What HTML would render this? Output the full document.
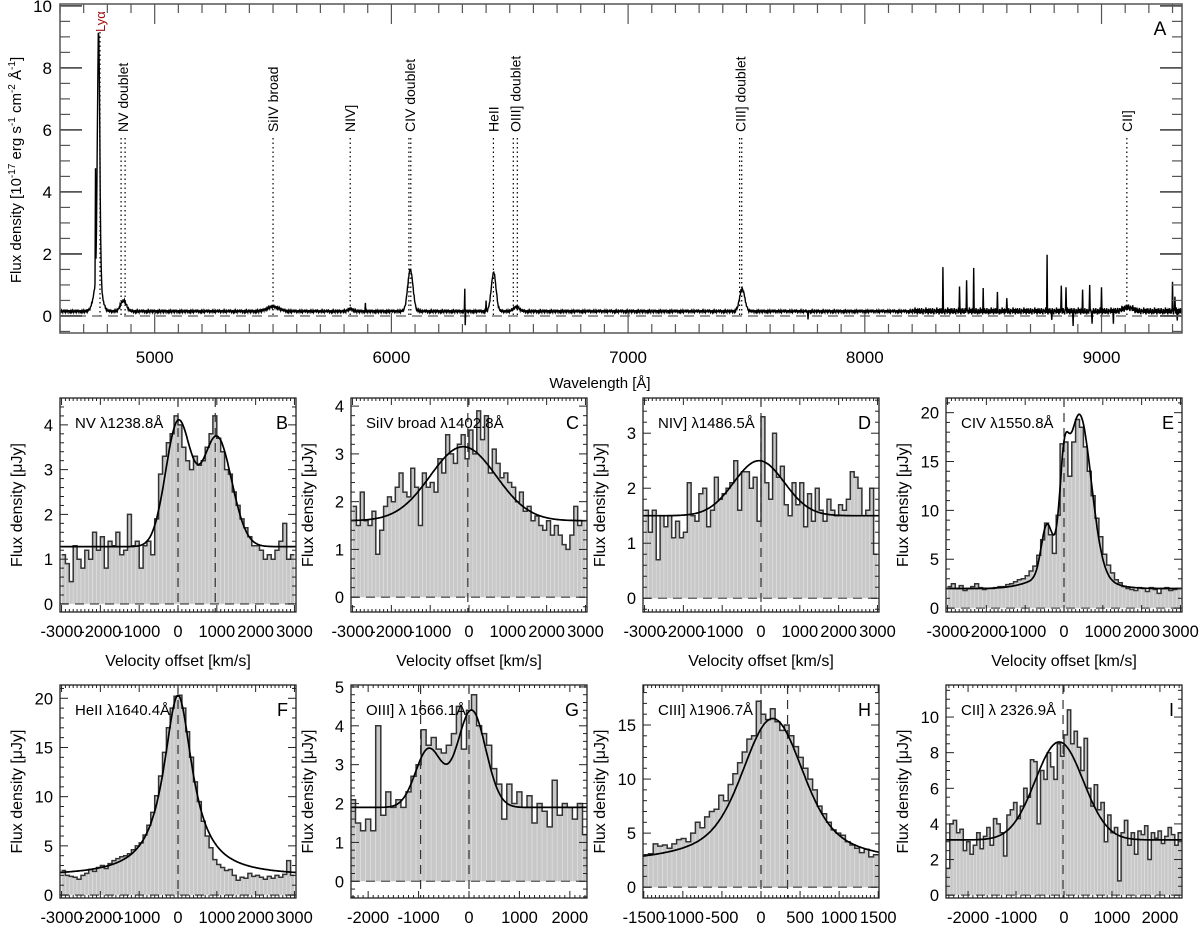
<!DOCTYPE html>
<html><head><meta charset="utf-8"><title>Spectrum figure</title>
<style>
html,body{margin:0;padding:0;background:#fff;}
svg{display:block;font-family:"Liberation Sans",Arial,sans-serif;}
</style></head>
<body>
<svg id="fig" width="1200" height="931" viewBox="0 0 1200 931"></svg>
<script>
// ---------- Top panel data ----------
const lineCenters = [4763, 4760, 4868, 5500, 5828, 6080, 6432, 6528, 7482, 9112];
const lineAmps    = [8.0, 1.1, 0.35, 0.15, 0.08, 1.35, 1.25, 0.15, 0.72, 0.12];
const lineWidths  = [5, 15, 12, 25, 10, 11, 10, 12, 11, 20];
const spikeWaves  = [4750, 6310, 6312, 5890, 6400, 7760, 8330, 8345, 8400, 8430, 8460, 8500, 8560, 8600, 8770, 8790, 8830, 8850, 8880, 8920, 8950, 8960, 9000, 9050, 9300, 9310, 9320];
const spikeVals   = [3.5, 0.75, -0.45, 0.3, 0.3, -0.25, 1.4, 0.9, 0.8, 1.1, 1.3, 0.7, 0.6, 0.5, 1.75, -0.3, 0.9, 0.8, -0.4, 0.6, 0.9, -0.45, 0.7, -0.3, 1.0, 0.5, -0.3];
const noisePattern = [0.02,-0.03,0.01,0.04,-0.02,0.0,-0.04,0.03,0.01,-0.01,0.02,-0.03,0.05,-0.02,0.0,0.03,-0.01,-0.04,0.02,0.01,-0.02,0.04,-0.03];
const baseFlux = 0.15;
const markerNames = ["Ly\u03b1", "NV doublet", "SiIV broad", "NIV]", "CIV doublet", "HeII", "OIII] doublet", "CIII] doublet", "CII]"];
const markerWaves = [[4769], [4858, 4875], [5500], [5826], [6074, 6082], [6431], [6515, 6532], [7471, 7480], [9107]];
const topXTicks = [5000, 6000, 7000, 8000, 9000];
const topYTicks = [0, 2, 4, 6, 8, 10];

// ---------- Sub-panel data ----------
const valsB = [1.1,0.9,0.5,1.3,1.0,0.8,1.2,1.0,1.6,1.2, 1.5,0.8,1.4,1.3,1.6,1.1,1.2,2.0,1.3,1.4, 0.8,1.3,1.4,1.1,1.9,2.9,3.3,3.6,3.8,4.2, 4.0,3.5,3.2,3.0,3.3,3.1,3.2,3.5,3.8,4.2, 3.7,3.4,3.0,2.9,2.5,2.2,1.9,1.7,1.5,1.3, 1.3,1.2,1.0,1.1,1.0,1.2,1.4,1.8,1.0,1.1];
const valsC = [1.9,1.5,2.2,1.6,1.5,1.8,0.9,1.4,1.9,2.1, 2.0,2.3,2.6,2.2,2.1,2.7,2.3,1.5,2.6,2.3, 2.4,2.2,2.9,2.6,3.4,3.0,2.8,3.2,3.4,2.9, 3.5,3.0,3.9,3.3,3.8,2.6,3.1,2.8,2.5,2.6, 2.4,2.3,2.0,2.2,1.8,1.9,1.6,1.7,1.5,1.4, 1.6,1.3,1.5,1.3,1.1,1.0,1.3,1.9,1.5,1.6];
const valsD = [1.6,1.2,1.6,0.7,1.5,1.3,1.5,1.1,1.4,1.1, 1.2,2.1,1.5,1.4,1.9,2.0,1.3,1.6,2.2,1.8, 1.9,2.0,2.1,2.5,1.6,2.3,2.3,2.0,2.2,1.4, 3.3,2.1,1.8,3.0,2.2,2.4,1.7,1.5,2.1,1.7, 2.1,1.3,1.9,1.4,2.0,1.6,1.4,1.8,1.6,1.5, 1.7,1.6,1.8,2.3,2.2,2.0,1.5,1.6,2.0,0.8];
const valsE = [2.2,2.5,2.0,2.3,1.8,2.0,2.2,2.5,2.1,1.9,2.0,2.0,2.1,2.2,2.2,2.4,2.5,2.7,2.9,3.0, 3.3,3.8,4.3,5.4,7.0,8.7,7.5,5.6,9.5,16.8,17.0,13.5,17.0,19.3,18.5,16.5,14.0,11.5,9.2,7.3,5.5,4.4,3.6,2.9,2.6,2.2, 2.0,1.9,1.8,2.1,2.0,1.7,2.1,1.9,1.5,2.0,2.1,1.8,1.9,2.0];
const valsF = [2.5,2.0,1.9,1.8,1.6,2.0,2.2,2.6,2.4,2.8,3.0,2.7,3.2,3.5,3.7,3.9,4.0,4.2,4.6,5.0, 5.3,6.1,7.1,8.4,10.1,12.1,14.5,17.0,19.0,20.2,20.3,19.0,16.6,14.0,11.5,9.5,7.5,6.0,4.8,3.6, 3.1,2.8,2.5,2.6,2.0,1.5,1.8,1.7,2.2,1.9,2.0,1.8,1.6,1.9,1.7,2.0,1.8,2.1,3.5,2.0];
const valsG = [2.1,1.5,1.3,1.6,1.3,4.0,1.7,2.3,1.9,2.1, 1.9,2.3,2.7,3.0,3.9,3.5,3.7,3.4,3.3,3.5, 3.8,4.5,3.4,4.4,4.8,4.0,3.8,3.5,2.9,2.5, 1.6,2.5,2.0,2.3,1.9,2.2,1.5,2.0,1.8,1.4, 2.6,1.7,2.0,1.9,1.6,2.0,1.2];
const valsH = [3.0,3.1,4.0,3.8,3.9,3.6,4.0,4.4,4.5,4.2, 5.0,6.0,5.5,6.5,7.0,7.2,8.5,8.0,9.5,10.5, 11.5,12.5,13.7,14.0,17.2,16.0,15.5,16.5,15.3,14.5, 15.0,14.0,13.0,12.0,11.0,10.0,9.0,7.5,6.8,6.0, 5.3,5.0,4.8,4.2,3.9,3.6,3.2,3.5,2.8,3.0];
const valsI = [1.5,4.0,4.2,3.5,3.7,2.5,3.0,2.3,2.8,3.5, 2.6,3.3,3.8,2.8,4.3,4.0,3.5,2.2,4.5,4.8, 5.2,4.3,5.0,6.0,5.5,7.6,7.5,4.0,7.0,6.5, 8.0,7.2,6.5,8.5,7.8,9.0,10.4,8.5,9.2,8.3, 7.0,8.8,6.0,5.0,6.2,4.8,5.2,3.0,4.5,3.5, 3.8,0.8,3.5,4.2,2.8,3.5,2.3,3.6,3.4,3.9, 2.0,3.5,3.2,3.6,2.9,3.3,3.8,3.4,2.8,3.5];
const binStartB = -2950, binWB = 100;
const binStartC = -2950, binWC = 100;
const binStartD = -2950, binWD = 100;
const binStartE = -2950, binWE = 100;
const binStartF = -2950, binWF = 100;
const binStartG = -2300, binWG = 100;
const binStartH = -1470, binWH = 60;
const binStartI = -2415, binWI = 70;
// fit parameters
const fitContB = 1.28, fitCenB = [0, 1000], fitAmpB = [2.75, 2.45], fitSigB = [320, 380];
const fitContC = 1.6,  fitCenC = [-150], fitAmpC = [1.55], fitSigC = [850];
const fitContD = 1.5,  fitCenD = [-50], fitAmpD = [1.0], fitSigD = [650];
const fitContE = 2.0,  fitCenE = [-450, 0, 400, 100], fitAmpE = [4.8, 6.5, 16.0, 2.0], fitSigE = [140, 110, 300, 700];
const fitContF = 1.9,  fitCenF = [0], fitAmpF = [18.4], fitGamF = [450];
const fitContG = 1.9,  fitCenG = [-800, 50], fitAmpG = [1.5, 2.5], fitSigG = [260, 280];
const fitContH = 2.0,  fitCenH = [150], fitAmpHg = [7.0], fitSigH = [350], fitAmpHl = [6.6], fitGamH = [650];
const fitContI = 3.1,  fitCenI = [-100], fitAmpI = [5.5], fitSigI = [500];

const NS = 'http://www.w3.org/2000/svg';
const svg = document.getElementById('fig');
function mk(parent, tag, attrs, name) {
  const el = document.createElementNS(NS, tag);
  for (const k in attrs) el.setAttribute(k, attrs[k]);
  
  
  parent.appendChild(el);
  return el;
}
function txt(parent, x, y, s, size, anchor, name, extra) {
  const t = mk(parent, 'text', Object.assign({x: x, y: y, 'font-size': size, 'text-anchor': anchor, fill: '#000'}, extra || {}), name);
  t.textContent = s;
  return t;
}
const defs = mk(svg, 'defs', {}, 'defs');

// ================= TOP PANEL =================
(function () {
  const X0 = 60, X1 = 1182, Y0 = 4, Y1 = 333;
  const wmin = 4600, wmax = 9340, fmin = -0.55, fmax = 10.06;
  const xW = w => X0 + (w - wmin) / (wmax - wmin) * (X1 - X0);
  const yF = f => Y1 - (f - fmin) / (fmax - fmin) * (Y1 - Y0);
  const g = mk(svg, 'g', {}, 'panel-a');
  const cp = mk(defs, 'clipPath', {id: 'clipA'}, 'clip-a');
  mk(cp, 'rect', {x: X0, y: Y0, width: X1 - X0, height: Y1 - Y0}, 'clip-rect');
  mk(g, 'line', {x1: X0, x2: X1, y1: yF(0), y2: yF(0), stroke: '#777', 'stroke-width': 1.5, 'stroke-dasharray': '10,6'}, 'zero-line');
  markerNames.forEach((nm, i) => {
    const ws = markerWaves[i];
    const isLya = i === 0;
    ws.forEach(w => {
      mk(g, 'line', {x1: xW(w), x2: xW(w), y1: isLya ? 32 : 138, y2: yF(0), stroke: '#000', 'stroke-width': 1.2, 'stroke-dasharray': '1.5,3'}, 'marker-line');
    });
    const xc = ws.reduce((a, b) => a + b, 0) / ws.length;
    const by = isLya ? 32 : 132;
    txt(g, 0, 0, nm, isLya ? 13 : 14, 'start', 'marker-label', {transform: 'translate(' + (xW(xc) + 5) + ',' + by + ') rotate(-90)', fill: isLya ? '#a01010' : '#000'});
  });
  let d = '';
  let k = 0;
  for (let w = wmin; w <= wmax; w += 2, k++) {
    let f = baseFlux;
    for (let j = 0; j < lineCenters.length; j++) {
      const z = (w - lineCenters[j]) / lineWidths[j];
      f += lineAmps[j] * Math.exp(-0.5 * z * z);
    }
    let nz = noisePattern[k % noisePattern.length];
    if (w > 8200) nz *= 2.5;
    f += nz;
    for (let j = 0; j < spikeWaves.length; j++) {
      if (Math.abs(w - spikeWaves[j]) < 1) f += spikeVals[j];
    }
    d += (d ? 'L' : 'M') + xW(w).toFixed(1) + ',' + yF(f).toFixed(1);
  }
  mk(g, 'path', {d: d, fill: 'none', stroke: '#000', 'stroke-width': 1.4, 'clip-path': 'url(#clipA)'}, 'spectrum-line');
  mk(g, 'rect', {x: X0, y: Y0, width: X1 - X0, height: Y1 - Y0, fill: 'none', stroke: '#555', 'stroke-width': 1.5}, 'axes-frame');
  for (let w = 4600; w <= wmax; w += 100) {
    const major = w % 1000 === 0;
    const L = major ? 20 : 9;
    mk(g, 'line', {x1: xW(w), x2: xW(w), y1: Y1, y2: Y1 - L, stroke: '#555', 'stroke-width': 1.2}, 'x-tick');
    mk(g, 'line', {x1: xW(w), x2: xW(w), y1: Y0, y2: Y0 + L, stroke: '#555', 'stroke-width': 1.2}, 'x-tick-top');
  }
  topXTicks.forEach(w => txt(g, xW(w), 363, String(w), 17, 'middle', 'x-tick-label'));
  for (let f = -0.5; f <= 10; f += 0.5) {
    const major = Math.abs(f / 2 - Math.round(f / 2)) < 1e-6;
    const L = major ? 22 : 10;
    mk(g, 'line', {x1: X0, x2: X0 + L, y1: yF(f), y2: yF(f), stroke: '#555', 'stroke-width': major ? 1.8 : 1.2}, 'y-tick');
    mk(g, 'line', {x1: X1, x2: X1 - L, y1: yF(f), y2: yF(f), stroke: '#555', 'stroke-width': major ? 1.8 : 1.2}, 'y-tick-right');
  }
  topYTicks.forEach(f => txt(g, 52, yF(f) + 6, String(f), 17, 'end', 'y-tick-label'));
  txt(g, 600, 388, 'Wavelength [\u00c5]', 15, 'middle', 'x-axis-title');
  const yt = mk(g, 'text', {transform: 'translate(21,170) rotate(-90)', 'font-size': 15, 'text-anchor': 'middle'}, 'y-axis-title');
  yt.innerHTML = 'Flux density [10<tspan dy="-6" font-size="10">-17</tspan><tspan dy="6"> erg s</tspan><tspan dy="-6" font-size="10">-1</tspan><tspan dy="6"> cm</tspan><tspan dy="-6" font-size="10">-2</tspan><tspan dy="6"> \u00c5</tspan><tspan dy="-6" font-size="10">-1</tspan><tspan dy="6">]</tspan>';
  txt(g, 1160, 35, 'A', 19, 'middle', 'panel-letter');
})();

// ================= SUB PANELS =================
function gauss(v, cont, cen, amp, sig) {
  let f = cont;
  for (let i = 0; i < cen.length; i++) { const z = (v - cen[i]) / sig[i]; f += amp[i] * Math.exp(-0.5 * z * z); }
  return f;
}
function lorentz(v, cont, cen, amp, gam) {
  let f = cont;
  for (let i = 0; i < cen.length; i++) { const z = (v - cen[i]) / gam[i]; f += amp[i] / (1 + z * z); }
  return f;
}
let clipN = 0;
function panel(p) {
  const {x0, x1, y0, y1, vmin, vmax, fmin, fmax} = p;
  const X = v => x0 + (v - vmin) / (vmax - vmin) * (x1 - x0);
  const Y = f => y1 - (f - fmin) / (fmax - fmin) * (y1 - y0);
  const g = mk(svg, 'g', {}, p.name);
  const id = 'clipP' + (clipN++);
  const cp = mk(defs, 'clipPath', {id: id}, 'clip-panel');
  mk(cp, 'rect', {x: x0, y: y0, width: x1 - x0, height: y1 - y0}, 'clip-rect');
  const inner = mk(g, 'g', {'clip-path': 'url(#' + id + ')'}, 'plot-area');
  const n = p.values.length;
  let step = '';
  for (let i = 0; i < n; i++) {
    const c = p.start + i * p.bw;
    const xa = X(c - p.bw / 2), xb = X(c + p.bw / 2);
    mk(inner, 'rect', {x: xa, y: Y(p.values[i]), width: Math.max(0.5, xb - xa), height: Math.max(0, Y(0) - Y(p.values[i])), fill: '#c8c8c8', stroke: '#e2e2e2', 'stroke-width': 0.6}, 'histogram-bar');
    step += (i === 0 ? 'M' : 'L') + xa.toFixed(1) + ',' + Y(p.values[i]).toFixed(1) + 'L' + xb.toFixed(1) + ',' + Y(p.values[i]).toFixed(1);
  }
  mk(inner, 'path', {d: step, fill: 'none', stroke: '#333', 'stroke-width': 1.5}, 'histogram-outline');
  mk(inner, 'line', {x1: x0, x2: x1, y1: Y(0), y2: Y(0), stroke: '#555', 'stroke-width': 1.3, 'stroke-dasharray': '9,6'}, 'zero-line');
  p.vlines.forEach(v => mk(inner, 'line', {x1: X(v), x2: X(v), y1: y0, y2: y1, stroke: '#333', 'stroke-width': 1.2, 'stroke-dasharray': '9,6'}, 'reference-velocity-line'));
  let fd = '';
  for (let k = 0; k <= 300; k++) {
    const v = vmin + (vmax - vmin) * k / 300;
    fd += (k ? 'L' : 'M') + X(v).toFixed(1) + ',' + Y(p.fit(v)).toFixed(1);
  }
  mk(inner, 'path', {d: fd, fill: 'none', stroke: '#000', 'stroke-width': 1.7}, 'fit-curve');
  mk(g, 'rect', {x: x0, y: y0, width: x1 - x0, height: y1 - y0, fill: 'none', stroke: '#222', 'stroke-width': 1.3}, 'axes-frame');
  for (let v = Math.ceil(vmin / p.xminor) * p.xminor; v <= vmax; v += p.xminor) {
    const major = Math.abs(v / p.xmajor - Math.round(v / p.xmajor)) < 1e-6;
    const L = major ? 7 : 3;
    mk(g, 'line', {x1: X(v), x2: X(v), y1: y1, y2: y1 - L, stroke: '#222', 'stroke-width': 1}, 'x-tick');
    mk(g, 'line', {x1: X(v), x2: X(v), y1: y0, y2: y0 + L, stroke: '#222', 'stroke-width': 1}, 'x-tick-top');
  }
  p.xticks.forEach(v => txt(g, X(v), y1 + 25, String(v), 16.5, 'middle', 'x-tick-label'));
  for (let f = Math.ceil(fmin / p.yminor) * p.yminor; f <= fmax; f += p.yminor) {
    const major = Math.abs(f / p.ymajor - Math.round(f / p.ymajor)) < 1e-6;
    const L = major ? 8 : 4;
    mk(g, 'line', {x1: x0, x2: x0 + L, y1: Y(f), y2: Y(f), stroke: '#222', 'stroke-width': 1}, 'y-tick');
    mk(g, 'line', {x1: x1, x2: x1 - L, y1: Y(f), y2: Y(f), stroke: '#222', 'stroke-width': 1}, 'y-tick-right');
  }
  p.yticks.forEach(f => txt(g, x0 - 7, Y(f) + 6, String(f), 16.5, 'end', 'y-tick-label'));
  txt(g, 0, 0, 'Flux density [\u03bcJy]', 16, 'middle', 'y-axis-title', {transform: 'translate(' + (x0 - 38) + ',' + ((y0 + y1) / 2) + ') rotate(-90)'});
  if (p.xtitle) txt(g, (x0 + x1) / 2, y1 + 54, 'Velocity offset [km/s]', 16, 'middle', 'x-axis-title');
  txt(g, x0 + 15, y0 + 30, p.label, 15, 'start', 'line-label');
  txt(g, x1 - 8, y0 + 31, p.letter, 18, 'end', 'panel-letter');
}
const tk3 = [-3000, -2000, -1000, 0, 1000, 2000, 3000];
const tk2 = [-2000, -1000, 0, 1000, 2000];
panel({name: 'panel-b', x0: 60, x1: 296, y0: 398, y1: 612, vmin: -3040, vmax: 3040, fmin: -0.18, fmax: 4.6, values: valsB, start: binStartB, bw: binWB, fit: v => gauss(v, fitContB, fitCenB, fitAmpB, fitSigB), vlines: [0, 960], xticks: tk3, xmajor: 1000, xminor: 100, yticks: [0,1,2,3,4], ymajor: 1, yminor: 0.2, label: 'NV \u03bb1238.8\u00c5', letter: 'B', xtitle: true});
panel({name: 'panel-c', x0: 351, x1: 587, y0: 398, y1: 612, vmin: -3040, vmax: 3040, fmin: -0.31, fmax: 4.17, values: valsC, start: binStartC, bw: binWC, fit: v => gauss(v, fitContC, fitCenC, fitAmpC, fitSigC), vlines: [-30], xticks: tk3, xmajor: 1000, xminor: 100, yticks: [0,1,2,3,4], ymajor: 1, yminor: 0.2, label: 'SiIV broad \u03bb1402.8\u00c5', letter: 'C', xtitle: true});
panel({name: 'panel-d', x0: 643, x1: 879, y0: 398, y1: 612, vmin: -3040, vmax: 3040, fmin: -0.25, fmax: 3.64, values: valsD, start: binStartD, bw: binWD, fit: v => gauss(v, fitContD, fitCenD, fitAmpD, fitSigD), vlines: [0], xticks: tk3, xmajor: 1000, xminor: 100, yticks: [0,1,2,3], ymajor: 1, yminor: 0.2, label: 'NIV] \u03bb1486.5\u00c5', letter: 'D', xtitle: true});
panel({name: 'panel-e', x0: 946, x1: 1182, y0: 398, y1: 612, vmin: -3040, vmax: 3040, fmin: -0.4, fmax: 21.5, values: valsE, start: binStartE, bw: binWE, fit: v => gauss(v, fitContE, fitCenE, fitAmpE, fitSigE), vlines: [0], xticks: tk3, xmajor: 1000, xminor: 100, yticks: [0,5,10,15,20], ymajor: 5, yminor: 1, label: 'CIV \u03bb1550.8\u00c5', letter: 'E', xtitle: true});
panel({name: 'panel-f', x0: 60, x1: 296, y0: 685, y1: 898, vmin: -3040, vmax: 3040, fmin: -0.3, fmax: 21.35, values: valsF, start: binStartF, bw: binWF, fit: v => lorentz(v, fitContF, fitCenF, fitAmpF, fitGamF), vlines: [0], xticks: tk3, xmajor: 1000, xminor: 100, yticks: [0,5,10,15,20], ymajor: 5, yminor: 1, label: 'HeII \u03bb1640.4\u00c5', letter: 'F', xtitle: false});
panel({name: 'panel-g', x0: 351, x1: 587, y0: 685, y1: 898, vmin: -2340, vmax: 2340, fmin: -0.43, fmax: 5.05, values: valsG, start: binStartG, bw: binWG, fit: v => gauss(v, fitContG, fitCenG, fitAmpG, fitSigG), vlines: [-960, 0], xticks: tk2, xmajor: 1000, xminor: 100, yticks: [0,1,2,3,4,5], ymajor: 1, yminor: 0.2, label: 'OIII] \u03bb 1666.1\u00c5', letter: 'G', xtitle: false});
panel({name: 'panel-h', x0: 643, x1: 879, y0: 685, y1: 898, vmin: -1510, vmax: 1510, fmin: -1.0, fmax: 18.7, values: valsH, start: binStartH, bw: binWH, fit: v => gauss(v, 0, fitCenH, fitAmpHg, fitSigH) + lorentz(v, fitContH, fitCenH, fitAmpHl, fitGamH), vlines: [0, 340], xticks: [-1500,-1000,-500,0,500,1000,1500], xmajor: 500, xminor: 50, yticks: [0,5,10,15], ymajor: 5, yminor: 1, label: 'CIII] \u03bb1906.7\u00c5', letter: 'H', xtitle: false});
panel({name: 'panel-i', x0: 946, x1: 1182, y0: 685, y1: 898, vmin: -2460, vmax: 2460, fmin: -0.16, fmax: 11.8, values: valsI, start: binStartI, bw: binWI, fit: v => gauss(v, fitContI, fitCenI, fitAmpI, fitSigI), vlines: [-20], xticks: tk2, xmajor: 1000, xminor: 100, yticks: [0,2,4,6,8,10], ymajor: 2, yminor: 0.5, label: 'CII] \u03bb 2326.9\u00c5', letter: 'I', xtitle: false});
</script>
</body></html>
